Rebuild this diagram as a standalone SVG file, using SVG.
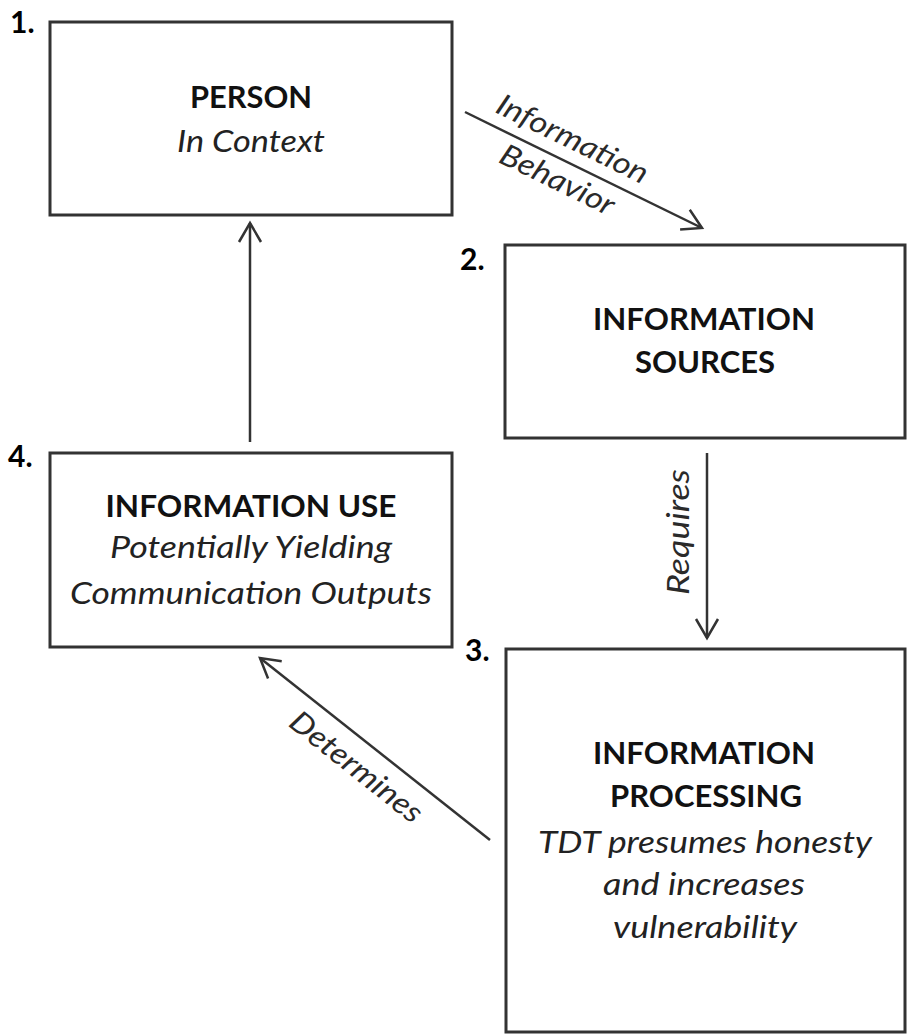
<svg xmlns="http://www.w3.org/2000/svg" width="907" height="1036" viewBox="0 0 907 1036">
<defs>
<style>
.box{fill:#fff;stroke:#333;stroke-width:3}
.t{font-family:Lato,"Liberation Sans",sans-serif;fill:#111;text-anchor:middle}
.b{font-weight:bold;font-size:30px}
.i{font-style:italic;font-size:30px;fill:#222}
.num{font-family:Lato,"Liberation Sans",sans-serif;font-weight:bold;font-size:30px;fill:#000}
.lab{font-family:Lato,"Liberation Sans",sans-serif;font-style:italic;font-size:30px;fill:#2a2a2a;text-anchor:middle}
.conn{stroke:#333;stroke-width:2.5;fill:none}
</style>
<marker id="arr" markerUnits="userSpaceOnUse" viewBox="-22 -14 26 28" refX="0" refY="0" markerWidth="26" markerHeight="28" orient="auto">
<path d="M-19,-11 L0,0 L-19,11" fill="none" stroke="#333" stroke-width="2.5"/>
</marker>
</defs>
<rect width="907" height="1036" fill="#fff"/>
<g id="connectors">
<line class="conn" x1="465" y1="112" x2="702" y2="228" marker-end="url(#arr)"/>
<line class="conn" x1="707" y1="453" x2="707" y2="638" marker-end="url(#arr)"/>
<line class="conn" x1="490" y1="840" x2="260" y2="658" marker-end="url(#arr)"/>
<line class="conn" x1="250" y1="442" x2="250" y2="223" marker-end="url(#arr)"/>
<text class="lab" x="568" y="148" transform="rotate(26.1 568 148)" textLength="165" lengthAdjust="spacingAndGlyphs">Information</text>
<text class="lab" x="553" y="189" transform="rotate(26.1 553 189)" textLength="124" lengthAdjust="spacingAndGlyphs">Behavior</text>
<text class="lab" x="689" y="532" transform="rotate(-90 689 532)" textLength="126" lengthAdjust="spacingAndGlyphs">Requires</text>
<text class="lab" x="350" y="775" transform="rotate(38.4 350 775)" textLength="160" lengthAdjust="spacingAndGlyphs">Determines</text>
</g>
<g id="node1">
<rect class="box" x="50" y="22" width="402" height="193"/>
<text class="num" x="10" y="33">1.</text>
<text class="t b" x="251" y="108" textLength="122" lengthAdjust="spacingAndGlyphs">PERSON</text>
<text class="t i" x="251" y="152" textLength="148" lengthAdjust="spacingAndGlyphs">In Context</text>
</g>
<g id="node2">
<rect class="box" x="505" y="245" width="400" height="193"/>
<text class="num" x="460" y="270">2.</text>
<text class="t b" x="704" y="330" textLength="222" lengthAdjust="spacingAndGlyphs">INFORMATION</text>
<text class="t b" x="705" y="373" textLength="140" lengthAdjust="spacingAndGlyphs">SOURCES</text>
</g>
<g id="node3">
<rect class="box" x="506" y="649" width="399" height="383"/>
<text class="num" x="465" y="661">3.</text>
<text class="t b" x="704" y="764" textLength="222" lengthAdjust="spacingAndGlyphs">INFORMATION</text>
<text class="t b" x="706" y="807" textLength="192" lengthAdjust="spacingAndGlyphs">PROCESSING</text>
<text class="t i" x="705" y="853" textLength="334" lengthAdjust="spacingAndGlyphs">TDT presumes honesty</text>
<text class="t i" x="704" y="895" textLength="202" lengthAdjust="spacingAndGlyphs">and increases</text>
<text class="t i" x="705" y="938" textLength="184" lengthAdjust="spacingAndGlyphs">vulnerability</text>
</g>
<g id="node4">
<rect class="box" x="50" y="453" width="402" height="194"/>
<text class="num" x="8" y="467">4.</text>
<text class="t b" x="251" y="517" textLength="291" lengthAdjust="spacingAndGlyphs">INFORMATION USE</text>
<text class="t i" x="251" y="558" textLength="282" lengthAdjust="spacingAndGlyphs">Potentially Yielding</text>
<text class="t i" x="251" y="604" textLength="362" lengthAdjust="spacingAndGlyphs">Communication Outputs</text>
</g>
</svg>
